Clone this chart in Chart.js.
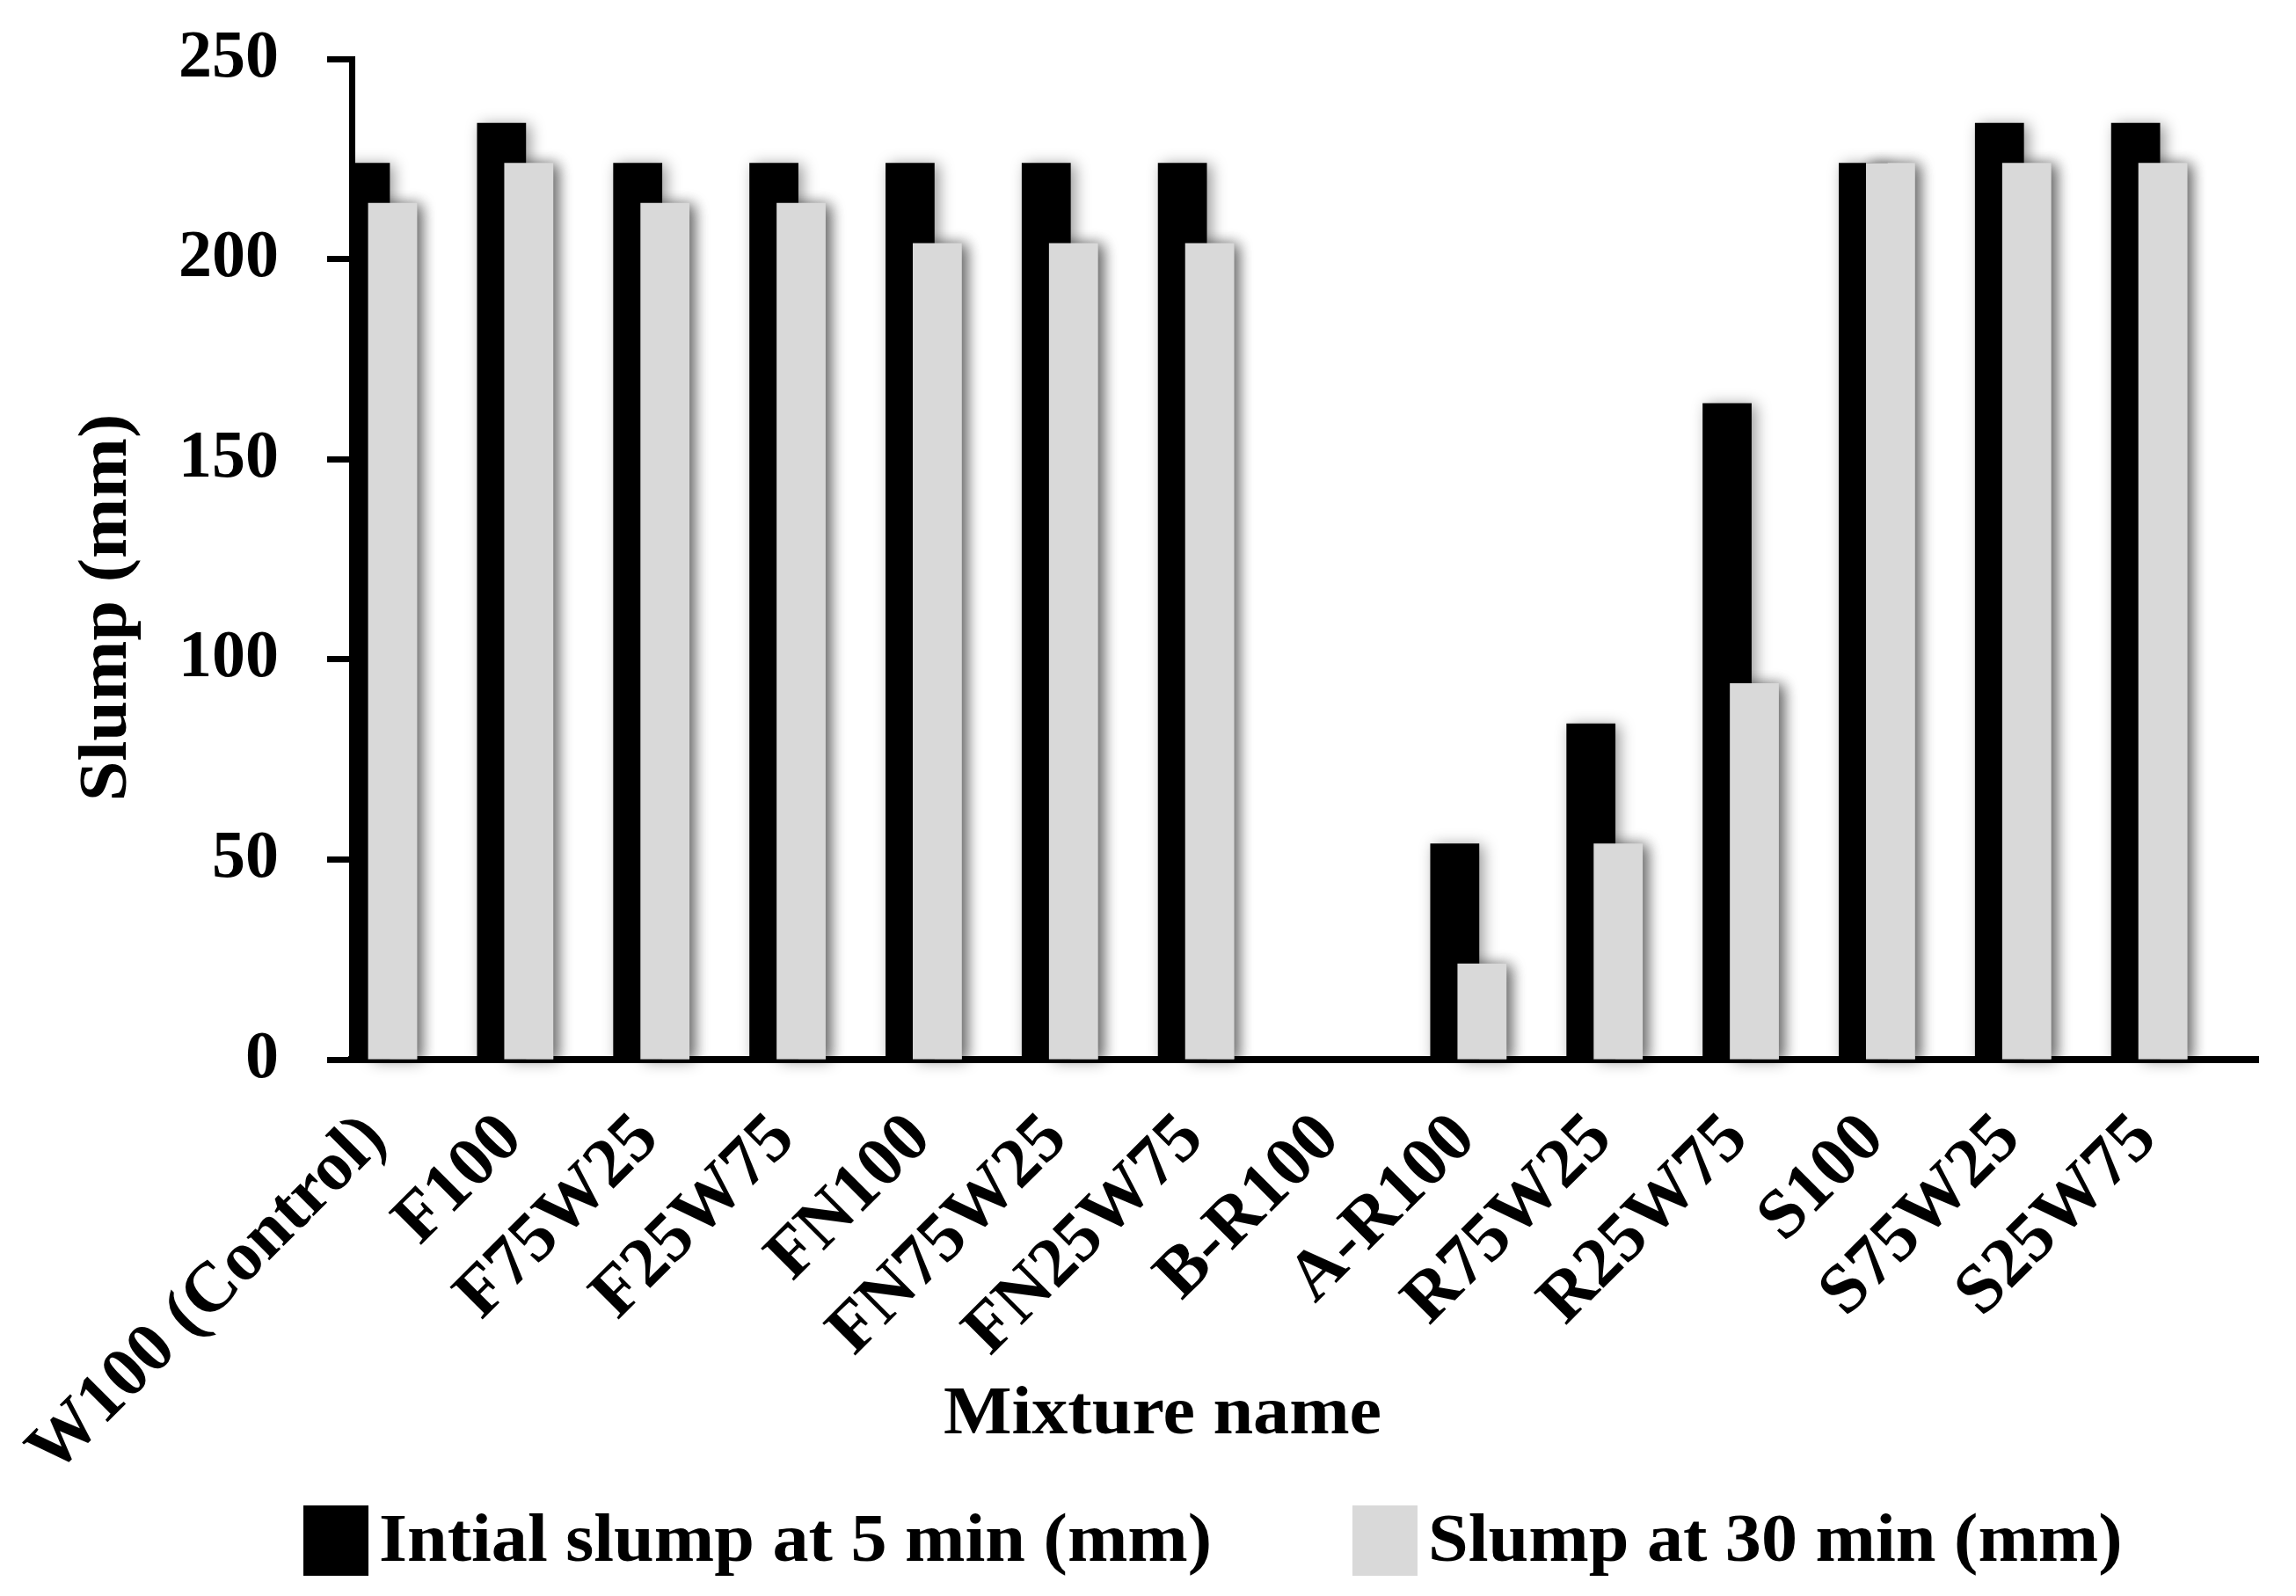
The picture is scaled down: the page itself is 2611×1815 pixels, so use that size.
<!DOCTYPE html>
<html>
<head>
<meta charset="utf-8">
<script src="https://cdn.jsdelivr.net/npm/chart.js@4.4.1/dist/chart.umd.min.js"></script>
<style>
  html, body { margin: 0; padding: 0; background: #fff; }
  canvas { display: block; }
</style>
</head>
<body>
<canvas id="slumpChart" width="2611" height="1815"></canvas>
<script>
// mixtures on the x axis
const mixtures = ['W100 (Control)', 'F100', 'F75W25', 'F25W75', 'FN100', 'FN75W25', 'FN25W75',
                  'B-R100', 'A-R100', 'R75W25', 'R25W75', 'S100', 'S75W25', 'S25W75'];

// slump values (mm)
const initialSlump = [224, 234, 224, 224, 224, 224, 224, 0, 54, 84, 164, 224, 234, 234];
const slump30 = [214, 224, 214, 214, 204, 204, 204, 0, 24, 54, 94, 224, 224, 224];

const seriesNames = ['Intial slump at 5 min (mm)', 'Slump at 30 min (mm)'];
const seriesColors = ['#000000', '#d9d9d9'];

const yTicks = [0, 50, 100, 150, 200, 250];
const yTitle = 'Slump (mm)';
const xTitle = 'Mixture name';

const FONT = "'Liberation Serif', 'Times New Roman', serif";

// empty series so the two real bars sit left in each category like the original
const spacer = mixtures.map(() => 0);

window.addEventListener('load', () => {
    const ctx = document.getElementById('slumpChart').getContext('2d');

    // soft drop shadow on bars, light bars painted on top of black ones
    const barShadow = {
        id: 'barShadow',
        beforeDatasetsDraw(chart) {
            const c = chart.ctx;
            c.save();
            c.shadowColor = 'rgba(0,0,0,0.40)';
            c.shadowBlur = 16;
            c.shadowOffsetX = 5;
            c.shadowOffsetY = 2;
        },
        afterDatasetsDraw(chart) {
            chart.getDatasetMeta(1).controller.draw();
            chart.ctx.restore();
        }
    };

    // axis titles and legend placed where the original has them (text a bit widened, like the original face)
    function wideText(c, str, x, y, align) {
        c.save();
        c.translate(x, y);
        c.scale(1.04, 1);
        c.textAlign = align;
        c.fillText(str, 0, 0);
        c.restore();
    }

    const textBits = {
        id: 'textBits',
        afterDraw(chart) {
            const c = chart.ctx;
            c.save();
            c.fillStyle = '#000';
            c.font = 'bold 79px ' + FONT;
            c.textBaseline = 'alphabetic';

            // y title
            c.save();
            c.translate(143, 691);
            c.rotate(-Math.PI / 2);
            wideText(c, yTitle, 0, 0, 'center');
            c.restore();

            // x title
            wideText(c, xTitle, 1322, 1630, 'center');

            // legend
            const ds = chart.data.datasets;
            const legendX = [345, 1538];
            for (let i = 0; i < 2; i++) {
                c.fillStyle = ds[i].backgroundColor;
                c.fillRect(legendX[i], 1712, 74, 80);
                c.fillStyle = '#000';
                wideText(c, ds[i].label, legendX[i] + 86, 1775, 'left');
            }
            c.restore();
        }
    };

    new Chart(ctx, {
        type: 'bar',
        data: {
            labels: mixtures,
            datasets: [
                { label: seriesNames[0], data: initialSlump, backgroundColor: seriesColors[0] },
                { label: seriesNames[1], data: slump30, backgroundColor: seriesColors[1] },
                { label: '', data: spacer, backgroundColor: 'rgba(0,0,0,0)' },
                { label: '', data: spacer, backgroundColor: 'rgba(0,0,0,0)' },
                { label: '', data: spacer, backgroundColor: 'rgba(0,0,0,0)' }
            ]
        },
        options: {
            responsive: false,
            animation: false,
            devicePixelRatio: 1,
            categoryPercentage: 1.0,
            barPercentage: 1.8,
            layout: { padding: { left: 0, right: 43, top: 67, bottom: 0 } },
            plugins: {
                legend: { display: false },
                tooltip: { enabled: false }
            },
            scales: {
                x: {
                    afterFit(scale) {
                        scale.height = 610;
                        scale.paddingLeft = 0;
                        scale.paddingRight = 0;
                    },
                    grid: { display: false },
                    border: { display: true, color: '#000', width: 8 },
                    ticks: {
                        color: '#000',
                        font: { family: FONT, size: 80, weight: 'bold' },
                        minRotation: 45,
                        maxRotation: 45,
                        autoSkip: false,
                        padding: 36,
                        labelOffset: -50
                    }
                },
                y: {
                    min: 0,
                    max: 250,
                    afterFit(scale) {
                        scale.width = 400;
                        scale.paddingTop = 0;
                        scale.paddingBottom = 0;
                    },
                    afterBuildTicks(scale) { scale.ticks = yTicks.map(v => ({ value: v })); },
                    grid: {
                        drawOnChartArea: false,
                        drawTicks: true,
                        tickLength: 28,
                        tickWidth: 7,
                        tickColor: '#000'
                    },
                    border: { display: true, color: '#000', width: 7 },
                    ticks: {
                        color: '#000',
                        font: { family: FONT, size: 76, weight: 'bold' },
                        padding: 55
                    }
                }
            }
        },
        plugins: [barShadow, textBits]
    });
});
</script>
</body>
</html>
